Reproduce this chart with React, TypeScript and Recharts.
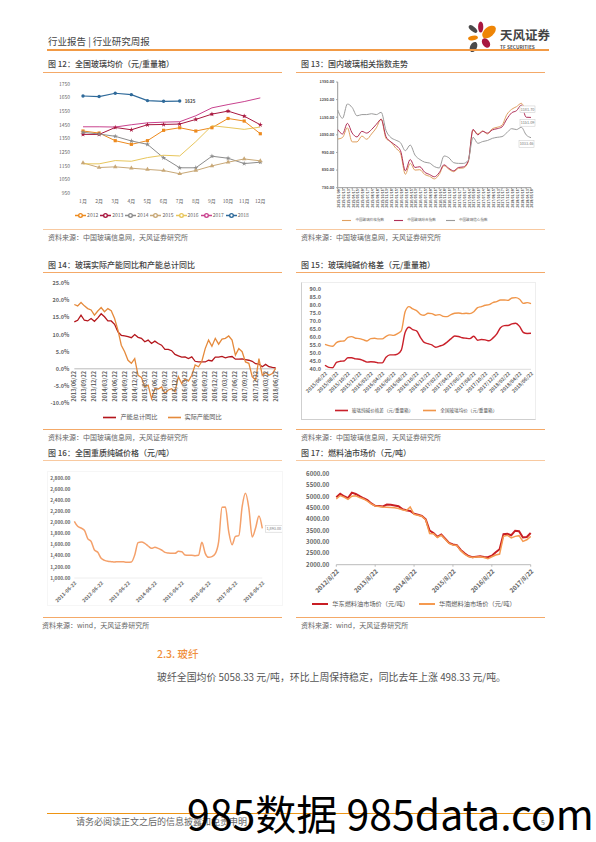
import React from 'react';
import { LineChart, Line, XAxis, YAxis, Legend, ReferenceLine, Symbols } from 'recharts';

const FONT = '"Noto Sans CJK SC", "Noto Sans", sans-serif';
const RULE = '#f4a968';

// fig 12
const months = ['1月', '2月', '3月', '4月', '5月', '6月', '7月', '8月', '9月', '10月', '11月', '12月'];
const price2012 = [1405, 1390, 1334, 1307, 1334, 1410, 1429, 1405, 1429, 1497, 1478, 1385];
const price2013 = [1380, 1380, 1431, 1414, 1451, 1453, 1456, 1490, 1529, 1551, 1514, 1451];
const price2014 = [1395, 1383, 1366, 1332, 1307, 1208, 1135, 1135, 1220, 1205, 1166, 1176];
const price2015 = [1171, 1137, 1142, 1132, 1123, 1115, 1091, 1115, 1149, 1176, 1200, 1186];
const price2016 = [1164, 1164, 1188, 1183, 1210, 1227, 1222, 1327, 1444, 1431, 1417, 1434];
const price2017 = [1436, 1436, 1434, 1451, 1465, 1470, 1473, 1517, 1575, 1599, 1621, 1648];
const price2018 = [1662, 1658, 1682, 1672, 1628, 1623, 1625, null, null, null, null, null];
const ticks12 = [950, 1050, 1150, 1250, 1350, 1450, 1550, 1650, 1750];

// fig 13
const dates13 = [
  '2015/01/09', '2015/02/13', '2015/03/13', '2015/04/17', '2015/05/15', '2015/06/19', '2015/07/17', '2015/08/14',
  '2015/09/18', '2015/10/16', '2015/11/13', '2015/12/18', '2016/01/15', '2016/02/19', '2016/03/18', '2016/04/15',
  '2016/05/13', '2016/06/17', '2016/07/15', '2016/08/19', '2016/09/16', '2016/10/14', '2016/11/18', '2016/12/16',
  '2017/01/13', '2017/02/17', '2017/03/17', '2017/04/14', '2017/05/19', '2017/06/16', '2017/07/14', '2017/08/18',
  '2017/09/15', '2017/10/13', '2017/11/17', '2017/12/15', '2018/01/19', '2018/02/16', '2018/03/16', '2018/04/13',
  '2018/05/18',
];
const indexPrice = [
  1026, 1035, 1090, 1010, 1010, 1043, 1025, 1055, 1090, 1140, 1030, 1010, 975, 945, 826, 888, 850, 852, 825, 815,
  800, 825, 875, 855, 841, 860, 862, 895, 1077, 1055, 1072, 1055, 1085, 1093, 1105, 1165, 1195, 1210, 1229, 1187, 1180,
];
const indexComposite = [
  1081, 1055, 1115, 1060, 1038, 1070, 1060, 1080, 1110, 1138, 1040, 1010, 990, 960, 846, 910, 865, 869, 838, 825,
  812, 835, 880, 860, 846, 865, 868, 900, 1081, 1050, 1070, 1060, 1078, 1085, 1095, 1140, 1175, 1187, 1219, 1150, 1149,
];
const indexConfidence = [
  1191, 1144, 1225, 1205, 1158, 1165, 1165, 1170, 1165, 1178, 1075, 1035, 1020, 1005, 960, 992, 935, 910, 895, 890,
  870, 862, 930, 920, 892, 888, 888, 905, 1036, 1002, 1012, 1018, 1030, 1036, 1040, 1062, 1085, 1080, 1093, 1050, 1034,
];
const ticks13 = [750, 850, 950, 1050, 1150, 1250, 1350];

// fig 14
const dates14 = [
  '2013/06/22', '2013/07/22', '2013/08/22', '2013/09/22', '2013/10/22', '2013/11/22', '2013/12/22', '2014/01/22',
  '2014/02/22', '2014/03/22', '2014/04/22', '2014/05/22', '2014/06/22', '2014/07/22', '2014/08/22', '2014/09/22',
  '2014/10/22', '2014/11/22', '2014/12/22', '2015/01/22', '2015/02/22', '2015/03/22', '2015/04/22', '2015/05/22',
  '2015/06/22', '2015/07/22', '2015/08/22', '2015/09/22', '2015/10/22', '2015/11/22', '2015/12/22', '2016/01/22',
  '2016/02/22', '2016/03/22', '2016/04/22', '2016/05/22', '2016/06/22', '2016/07/22', '2016/08/22', '2016/09/22',
  '2016/10/22', '2016/11/22', '2016/12/22', '2017/01/22', '2017/02/22', '2017/03/22', '2017/04/22', '2017/05/22',
  '2017/06/22', '2017/07/22', '2017/08/22', '2017/09/22', '2017/10/22', '2017/11/22', '2017/12/22', '2018/01/22',
  '2018/02/22', '2018/03/22', '2018/04/22', '2018/05/22', '2018/06/22',
];
const capacityTotal = [
  13.7, 14.2, 15.7, 14.2, 14, 14.7, 13.9, 14.9, 16.1, 15.2, 14, 14, 13, 10.8, 9.8, 9.6, 9.4, 9.1, 10, 9.2,
  8.9, 7.9, 8.4, 7.4, 8.1, 7.4, 6.9, 5.7, 5.7, 5.3, 4.2, 3.8, 3.4, 3.5, 3, 3.5, 2.2, 2, 2, 2,
  2.5, 2.3, 3.4, 3.4, 3.6, 3.2, 3.5, 3.6, 2.8, 2.8, 2.9, 2.7, 2.5, 2.2, 1.5, 1.4, 0.6, 1.3, 0.6, 0.4, 0.3,
];
const capacityActual = [
  18.8, 18.4, 19.4, 18.4, 17.6, 17.2, 15.7, 16.9, 17.9, 16.7, 17.6, 17, 14.7, 11.3, 6.9, 5, 2.5, 1.6, 3, -1.9,
  -2.5, -5.3, -4.8, -8.7, -5.8, -5.9, -5.3, -7.2, -6.2, -5.8, -6.7, -2.3, -4.3, -3, -3.6, -1.9, 1.1, 0.6, 2.2, 5.9,
  8.4, 6.6, 8.9, 7.2, 8.7, 8.9, 9.6, 8.4, 4, 5.9, 5, 2, 1.6, -2.3, -3.3, 3, -1.9, -1.1, -1.9, -1.4, 0.1,
];
const ticks14 = [-10, -5, 0, 5, 10, 15, 20, 25];

// fig 15
const dates15 = [
  '2015/06/22', '2015/07/12', '2015/08/01', '2015/08/22', '2015/09/12', '2015/10/01', '2015/10/22', '2015/11/12',
  '2015/12/01', '2015/12/22', '2016/01/12', '2016/02/01', '2016/02/22', '2016/03/12', '2016/04/01', '2016/04/22',
  '2016/05/12', '2016/06/01', '2016/06/22', '2016/07/12', '2016/08/01', '2016/08/22', '2016/09/12', '2016/10/01',
  '2016/10/22', '2016/11/12', '2016/12/01', '2016/12/22', '2017/01/12', '2017/02/01', '2017/02/22', '2017/03/12',
  '2017/04/01', '2017/04/22', '2017/05/12', '2017/06/01', '2017/06/22', '2017/07/12', '2017/08/01', '2017/08/22',
  '2017/09/12', '2017/10/01', '2017/10/22', '2017/11/12', '2017/12/01', '2017/12/22', '2018/01/12', '2018/02/01',
  '2018/02/22', '2018/03/12', '2018/04/01', '2018/04/22', '2018/05/12', '2018/06/01', '2018/06/22',
];
const spreadSoda = [
  42.5, 41.2, 41, 44.3, 45, 45.2, 47.2, 47.2, 46.5, 46.3, 45.5, 44.5, 44.7, 44.6, 44, 44, 47.5, 49, 49, 49.5,
  52, 63, 66.3, 64.8, 64, 60, 56.8, 56, 55.3, 53.8, 54.5, 55.3, 57, 59, 60.8, 60.5, 59.7, 59.4, 59.2, 60.7,
  58.2, 58.6, 58.4, 57.8, 59.5, 62, 66, 67.3, 67.4, 68.4, 68.8, 66.8, 63, 62.4, 62.5,
];
const glassAverage = [
  55.6, 54.8, 54.4, 56.7, 57.5, 57.7, 60, 60.4, 59.4, 59.2, 58.5, 57.7, 59.2, 59.4, 59, 59, 60.6, 61.5, 61.2, 62.3,
  64, 76, 79.2, 77.7, 76.7, 74.4, 73.8, 75, 74.8, 73.8, 74.2, 73.1, 72.9, 74.2, 75, 75.2, 74.8, 75, 74.8, 76,
  78.5, 79.2, 80, 80.4, 81.7, 82.3, 83.3, 83.3, 83.1, 84.6, 84.8, 83.8, 81.2, 81.7, 81,
];
const ticks15 = [40, 45, 50, 55, 60, 65, 70, 75, 80, 85, 90];

// fig 16
const dates16 = [
  '2011-06-22', '2011-08-07', '2011-09-22', '2011-11-07', '2011-12-22', '2012-02-07', '2012-03-22', '2012-05-07',
  '2012-06-22', '2012-08-07', '2012-09-22', '2012-11-07', '2012-12-22', '2013-02-07', '2013-03-22', '2013-05-07',
  '2013-06-22', '2013-08-07', '2013-09-22', '2013-11-07', '2013-12-22', '2014-02-07', '2014-03-22', '2014-05-07',
  '2014-06-22', '2014-08-07', '2014-09-22', '2014-11-07', '2014-12-22', '2015-02-07', '2015-03-22', '2015-05-07',
  '2015-06-22', '2015-08-07', '2015-09-22', '2015-11-07', '2015-12-22', '2016-02-07', '2016-03-22', '2016-05-07',
  '2016-06-22', '2016-08-07', '2016-09-22', '2016-11-07', '2016-12-22', '2017-02-07', '2017-03-22', '2017-05-07',
  '2017-06-22', '2017-08-07', '2017-09-22', '2017-11-07', '2017-12-22', '2018-02-07', '2018-03-22', '2018-05-07',
  '2018-06-22',
];
const sodaPrice = [
  2020, 1930, 1900, 1860, 1710, 1660, 1504, 1462, 1354, 1318, 1300, 1294, 1288, 1294, 1294, 1288, 1282, 1288, 1414, 1636,
  1648, 1624, 1576, 1534, 1552, 1534, 1504, 1462, 1450, 1444, 1444, 1480, 1474, 1414, 1408, 1408, 1402, 1410, 1642, 1444,
  1372, 1384, 1438, 1654, 2272, 2278, 1834, 1600, 1750, 1762, 2284, 2524, 2254, 1738, 1900, 2116, 1893,
];
const ticks16 = [1000, 1200, 1400, 1600, 1800, 2000, 2200, 2400, 2600, 2800];

// fig 17
const dates17 = [
  '2012/8/22', '2012/9/28', '2012/11/4', '2012/12/10', '2013/1/16', '2013/2/22', '2013/3/31', '2013/5/7', '2013/6/14', '2013/7/18',
  '2013/8/22', '2013/9/28', '2013/11/4', '2013/12/10', '2014/1/16', '2014/2/22', '2014/3/31', '2014/5/7', '2014/6/14', '2014/7/18',
  '2014/8/22', '2014/9/28', '2014/11/4', '2014/12/10', '2015/1/16', '2015/2/22', '2015/3/31', '2015/5/7', '2015/6/14', '2015/7/18',
  '2015/8/22', '2015/9/28', '2015/11/4', '2015/12/10', '2016/1/16', '2016/2/22', '2016/3/31', '2016/5/7', '2016/6/14', '2016/7/18',
  '2016/8/22', '2016/9/28', '2016/11/4', '2016/12/10', '2017/1/16', '2017/2/22', '2017/3/31', '2017/5/7', '2017/6/14', '2017/7/18',
  '2017/8/22',
];
const fuelEast = [
  4980, 5130, 5020, 4940, 5180, 5120, 5020, 4930, 4850, 4700, 4600, 4590, 4570, 4650, 4640, 4610, 4580, 4450, 4400, 4370,
  4250, 4200, 4150, 4000, 3500, 3400, 3230, 3330, 3150, 2960, 2890, 2860, 2650, 2500, 2380, 2330, 2350, 2370, 2340, 2330,
  2400, 2550, 2680, 3350, 3360, 3300, 3500, 3480, 3200, 3220, 3400,
];
const fuelSouth = [
  4900, 5050, 4980, 4880, 5020, 5040, 4960, 4900, 4800, 4680, 4590, 4570, 4540, 4530, 4520, 4510, 4480, 4420, 4380, 4550,
  4220, 4180, 4140, 3980, 3380, 3370, 3200, 3300, 3120, 2940, 2870, 2850, 2620, 2470, 2360, 2320, 2340, 2350, 2320, 2260,
  2350, 2430, 2470, 3250, 3300, 3180, 3250, 3280, 3030, 3100, 3250,
];
const ticks17 = [2000, 2500, 3000, 3500, 4000, 4500, 5000, 5500, 6000];

const legendText = (color: string) => (value: string) => <span style={{ color }}>{value}</span>;

const shapedDot = (type: any, size: number, color: string) => (props: any) => {
  if (props.value == null) return <g key={props.key} />;
  return <Symbols key={props.key} cx={props.cx} cy={props.cy} type={type} size={size} fill={color} />;
};

// white box with the last value, as on the wind charts
const boxLabel = (last: number, text: string, dx: number, dy: number, w: number, size: number) => (props: any) => {
  if (props.index !== last) return <g />;
  return (
    <g>
      <rect x={props.x + dx} y={props.y + dy} width={w} height={size + 3} fill="#fff" stroke="#c8c8c8" strokeWidth={0.5} />
      <text x={props.x + dx + w / 2} y={props.y + dy + size + 0.8} textAnchor="middle" fontSize={size} fill="#777">
        {text}
      </text>
    </g>
  );
};

function Box({ left, top, id, children }: any) {
  return <div id={id} style={{ position: 'absolute', left, top }}>{children}</div>;
}

function Chart12() {
  const data = months.map((m, i) => ({
    m,
    a: price2012[i],
    b: price2013[i],
    c: price2014[i],
    d: price2015[i],
    e: price2016[i],
    f: price2017[i],
    g: price2018[i],
  }));
  return (
    <Box left={43} top={76} id="c12">
      {/* the legend sits tight in the original, default item gaps are too wide */}
      <style>{'#c12 .recharts-legend-item{margin-right:2px!important}#c12 .recharts-legend-item .recharts-surface{margin-right:1px!important}'}</style>
      <LineChart width={235} height={150} data={data} margin={{ top: 8, right: 17.7, left: 0, bottom: 0 }}>
        <XAxis dataKey="m" interval={0} axisLine={false} tickLine={false} tickSize={0} tickMargin={6} height={33} tick={{ fontSize: 5, fill: '#666' }} />
        <YAxis domain={[950, 1750]} ticks={ticks12} interval={0} width={40} axisLine={false} tickLine={false} tickSize={0} tickMargin={13} tick={{ fontSize: 5, fill: '#666' }} />
        <Legend
          layout="horizontal"
          verticalAlign="middle"
          align="center"
          itemSorter={null}
          iconSize={11}
          formatter={legendText('#666')}
          wrapperStyle={{ left: 30, top: 134, width: 180, fontSize: 5, lineHeight: '10px' }}
        />
        <Line dataKey="a" name="2012" stroke="#ed8a1e" strokeWidth={1} dot={shapedDot('square', 10, '#ed8a1e')} isAnimationActive={false} />
        <Line dataKey="b" name="2013" stroke="#a8173f" strokeWidth={1} dot={shapedDot('star', 8, '#a8173f')} isAnimationActive={false} />
        <Line dataKey="c" name="2014" stroke="#8c8c8c" strokeWidth={1} dot={shapedDot('star', 8, '#8c8c8c')} isAnimationActive={false} />
        <Line dataKey="d" name="2015" stroke="#c8a877" strokeWidth={1} dot={shapedDot('triangle', 9, '#c8a877')} isAnimationActive={false} />
        <Line dataKey="e" name="2016" stroke="#e8c65c" strokeWidth={1} dot={false} isAnimationActive={false} />
        <Line dataKey="f" name="2017" stroke="#c9438f" strokeWidth={1} dot={false} isAnimationActive={false} />
        <Line
          dataKey="g"
          name="2018"
          stroke="#2f6a9a"
          strokeWidth={1.2}
          dot={shapedDot('circle', 9, '#2f6a9a')}
          isAnimationActive={false}
          label={(props: any) =>
            props.index === 6 ? (
              <text x={props.x + 5} y={props.y + 2} fontSize={4.5} fontWeight={700} fill="#444">
                1625
              </text>
            ) : (
              <g />
            )
          }
        />
      </LineChart>
    </Box>
  );
}

function Chart13() {
  const data = dates13.map((d, i) => ({ d, a: indexPrice[i], b: indexComposite[i], c: indexConfidence[i] }));
  return (
    <Box left={297} top={76}>
      <LineChart width={248} height={150} data={data} margin={{ top: 6, right: 14, left: 0, bottom: 0 }}>
        <XAxis
          dataKey="d"
          interval={0}
          stroke="#999"
          tickSize={1.5}
          tickMargin={1}
          height={38.3}
          tick={{ fontSize: 3.4, fontWeight: 700, fill: '#555', angle: -90, textAnchor: 'end', dy: -1 }}
        />
        <YAxis domain={[750, 1350]} ticks={ticks13} interval={0} width={40.7} stroke="#999" tickSize={1.5} tickMargin={2} tickFormatter={(v) => v.toFixed(2)} tick={{ fontSize: 3.8, fontWeight: 700, fill: '#555' }} />
        <Legend
          layout="horizontal"
          verticalAlign="middle"
          align="center"
          itemSorter={null}
          iconType="plainline"
          iconSize={9}
          formatter={legendText('#666')}
          wrapperStyle={{ left: 38, top: 140, width: 170, fontSize: 3.6, lineHeight: '8px' }}
        />
        <Line type="monotone" dataKey="a" name="中国玻璃价格指数" stroke="#e0a060" strokeWidth={1} dot={false} isAnimationActive={false} label={boxLabel(40, '1181.70', -11, -6, 15, 3.8)} />
        <Line type="monotone" dataKey="b" name="中国玻璃综合指数" stroke="#b03058" strokeWidth={1} dot={false} isAnimationActive={false} label={boxLabel(40, '1151.09', -11, 2, 15, 3.8)} />
        <Line type="monotone" dataKey="c" name="中国玻璃信心指数" stroke="#9b9b9b" strokeWidth={1} dot={false} isAnimationActive={false} label={boxLabel(40, '1033.46', -12, 3, 15, 3.8)} />
      </LineChart>
    </Box>
  );
}

function Chart14() {
  const data = dates14.map((d, i) => ({ d, a: capacityTotal[i], b: capacityActual[i] }));
  // date labels hang from the zero line, not from the foot of the plot
  const raisedTick = (props: any) => (
    <text
      x={props.x}
      y={props.y}
      transform={`rotate(-90 ${props.x} ${props.y})`}
      textAnchor="end"
      dy={2}
      fontSize={5.6}
      fontWeight={700}
      fill="#666"
    >
      {props.payload.value}
    </text>
  );
  return (
    <Box left={43} top={277}>
      <LineChart width={240} height={150} data={data} margin={{ top: 6.3, right: 7.3, left: 0, bottom: 0 }}>
        <XAxis dataKey="d" interval={2} axisLine={false} tickLine={false} tickSize={-32} tickMargin={0} height={24} tick={raisedTick} />
        <YAxis domain={[-10, 25]} ticks={ticks14} interval={0} width={31.3} axisLine={false} tickLine={false} tickSize={0} tickMargin={5} tickFormatter={(v) => `${v.toFixed(1)}%`} tick={{ fontSize: 5.5, fontWeight: 700, fill: '#666' }} />
        <ReferenceLine y={0} stroke="#aaa" strokeWidth={0.8} />
        <Legend
          layout="horizontal"
          verticalAlign="middle"
          align="center"
          itemSorter={null}
          iconType="plainline"
          iconSize={13}
          formatter={legendText('#555')}
          wrapperStyle={{ left: 57, top: 134, width: 135, fontSize: 6.2, lineHeight: '10px' }}
        />
        <Line dataKey="a" name="产能总计同比" stroke="#b4161c" strokeWidth={1.3} dot={false} isAnimationActive={false} />
        <Line dataKey="b" name="实际产能同比" stroke="#e58a3c" strokeWidth={1.3} dot={false} isAnimationActive={false} />
      </LineChart>
    </Box>
  );
}

function Chart15() {
  const data = dates15.map((d, i) => ({ d, a: spreadSoda[i], b: glassAverage[i] }));
  return (
    <Box left={301} top={282}>
      <div style={{ width: 233, height: 136, borderLeft: '1px solid #cfcfcf', borderBottom: '1px solid #cfcfcf', borderTop: '1px solid #eee', borderRight: '1px solid #eee' }}>
        <LineChart width={233} height={136} data={data} margin={{ top: 6.3, right: 4, left: 0, bottom: 0 }}>
          <XAxis
            dataKey="d"
            interval={2}
            stroke="#ddd"
            tickLine={false}
            tickSize={0}
            tickMargin={2}
            height={49.7}
            tick={{ fontSize: 5, fontWeight: 700, fill: '#666', angle: -45, textAnchor: 'end' }}
          />
          <YAxis domain={[40, 90]} ticks={ticks15} interval={0} width={23} axisLine={false} tickLine={false} tickSize={0} tickMargin={4} tickFormatter={(v) => v.toFixed(1)} tick={{ fontSize: 5.5, fontWeight: 700, fill: '#666' }} />
          <Legend
            layout="horizontal"
            verticalAlign="middle"
            align="center"
            itemSorter={null}
            iconType="plainline"
            iconSize={13}
            formatter={legendText('#555')}
            wrapperStyle={{ left: 14, top: 121, width: 210, fontSize: 4.6, lineHeight: '10px' }}
          />
          <Line type="monotone" dataKey="a" name="玻璃纯碱价格差（元/重量箱）" stroke="#c9202a" strokeWidth={1.4} dot={false} isAnimationActive={false} />
          <Line type="monotone" dataKey="b" name="全国玻璃均价（元/重量箱）" stroke="#f0964a" strokeWidth={1.4} dot={false} isAnimationActive={false} />
        </LineChart>
      </div>
    </Box>
  );
}

function Chart16() {
  const data = dates16.map((d, i) => ({ d, a: sodaPrice[i] }));
  return (
    <Box left={48} top={472}>
      <div style={{ width: 234, height: 133, outline: '1px solid #f6f6f6' }}>
        <LineChart width={234} height={133} data={data} margin={{ top: 6, right: 19.7, left: 0, bottom: 0 }}>
          <XAxis
            dataKey="d"
            interval={7}
            stroke="#eee"
            tickLine={false}
            tickSize={0}
            tickMargin={3}
            height={27}
            tick={{ fontSize: 5, fontWeight: 700, fill: '#666', angle: -45, textAnchor: 'end' }}
          />
          <YAxis domain={[1000, 2800]} ticks={ticks16} interval={0} width={26.3} axisLine={false} tickLine={false} tickSize={0} tickMargin={4} tickFormatter={(v) => v.toLocaleString('en-US', { minimumFractionDigits: 2 })} tick={{ fontSize: 4.8, fontWeight: 700, fill: '#666' }} />
          <Line type="monotone" dataKey="a" name="全国重质纯碱价格" stroke="#f4a06a" strokeWidth={1.5} dot={false} isAnimationActive={false} label={boxLabel(56, '1,893.00', 3, -3, 17, 3.8)} />
        </LineChart>
      </div>
    </Box>
  );
}

function Chart17() {
  const data = dates17.map((d, i) => ({ d, a: fuelEast[i], b: fuelSouth[i] }));
  return (
    <Box left={301} top={466}>
      <LineChart width={236} height={146} data={data} margin={{ top: 8, right: 6.3, left: 0, bottom: 0 }}>
        <XAxis
          dataKey="d"
          interval={9}
          stroke="#bbb"
          tickSize={2}
          tickMargin={2}
          height={47.3}
          tick={{ fontSize: 6.2, fontWeight: 700, fill: '#666', angle: -45, textAnchor: 'end' }}
        />
        <YAxis domain={[2000, 6000]} ticks={ticks17} interval={0} width={35.3} axisLine={false} tickLine={false} tickSize={0} tickMargin={7} tickFormatter={(v) => v.toFixed(2)} tick={{ fontSize: 6, fontWeight: 700, fill: '#666' }} />
        <Legend
          layout="horizontal"
          verticalAlign="middle"
          align="center"
          itemSorter={null}
          iconType="plainline"
          iconSize={16}
          formatter={legendText('#555')}
          wrapperStyle={{ left: 5, top: 130, width: 226, fontSize: 6.2, lineHeight: '10px' }}
        />
        <Line dataKey="a" name="华东燃料油市场价（元/吨）" stroke="#c81e24" strokeWidth={2} dot={false} isAnimationActive={false} />
        <Line dataKey="b" name="华南燃料油市场价（元/吨）" stroke="#f59a50" strokeWidth={1.5} dot={false} isAnimationActive={false} />
      </LineChart>
    </Box>
  );
}

function Label({ x, y, size = 8, color = '#555', weight = 400, children }: any) {
  return (
    <div style={{ position: 'absolute', left: x, top: y, fontSize: size, color, fontWeight: weight, lineHeight: '12px', whiteSpace: 'nowrap' }}>
      {children}
    </div>
  );
}

function Rule({ x, y, w, h = 1, color = RULE }: any) {
  return <div style={{ position: 'absolute', left: x, top: y, width: w, height: h, background: color }} />;
}

function Logo() {
  return (
    <svg style={{ position: 'absolute', left: 466, top: 18 }} width={90} height={36}>
      <ellipse cx={14.7} cy={9} rx={2.6} ry={5.5} fill="#a8173f" />
      <ellipse cx={7} cy={11} rx={2.4} ry={5.2} fill="#4a4a4a" transform="rotate(-50 7 11)" />
      <ellipse cx={23} cy={14} rx={4.8} ry={8} fill="#ee8506" transform="rotate(50 23 14)" />
      <ellipse cx={7} cy={20} rx={2.2} ry={5} fill="#ee8506" transform="rotate(80 7 20)" />
      <ellipse cx={20} cy={25} rx={3.6} ry={5.2} fill="#a8173f" transform="rotate(-35 20 25)" />
      <ellipse cx={7.5} cy={29} rx={3.4} ry={5.4} fill="#4a4a4a" transform="rotate(25 7.5 29)" />
      <text x={34} y={22} fontSize={12.5} fontWeight={700} fill="#444" fontFamily={FONT}>天风证券</text>
      <text x={34} y={31} fontSize={4.8} fontWeight={700} fill="#555" fontFamily={FONT}>TF SECURITIES</text>
    </svg>
  );
}

export default function App() {
  return (
    <div style={{ position: 'absolute', left: 0, top: 0, width: 596, height: 842, overflow: 'hidden', background: '#fff', fontFamily: FONT }}>
      <Label x={48} y={35} size={9.5} color="#444">行业报告 | 行业研究周报</Label>
      <Logo />
      <Rule x={47} y={49} w={502} h={1.5} color="#f29a45" />

      <Label x={48} y={58} size={8} color="#444" weight={500}>图 12：全国玻璃均价（元/重量箱）</Label>
      <Rule x={43} y={72} w={239} />
      <Chart12 />
      <Rule x={43} y={229} w={239} h={1.2} color="#f8c9a0" />
      <Label x={48} y={231} size={7} color="#666">资料来源：中国玻璃信息网，天风证券研究所</Label>

      <Label x={301} y={58} size={8} color="#444" weight={500}>图 13：国内玻璃相关指数走势</Label>
      <Rule x={296} y={72} w={249} />
      <Chart13 />
      <Rule x={296} y={229} w={249} h={1.2} color="#f8c9a0" />
      <Label x={301} y={231} size={7} color="#666">资料来源：中国玻璃信息网，天风证券研究所</Label>

      <Label x={48} y={259} size={8} color="#444" weight={500}>图 14：玻璃实际产能同比和产能总计同比</Label>
      <Rule x={43} y={272} w={239} />
      <Chart14 />
      <Rule x={43} y={429} w={239} />
      <Label x={48} y={431} size={7} color="#666">资料来源：中国玻璃信息网，天风证券研究所</Label>

      <Label x={301} y={259} size={8} color="#444" weight={500}>图 15：玻璃纯碱价格差（元/重量箱）</Label>
      <Rule x={296} y={272} w={249} />
      <Chart15 />
      <Rule x={296} y={429} w={249} />
      <Label x={301} y={431} size={7} color="#666">资料来源：中国玻璃信息网，天风证券研究所</Label>

      <Label x={48} y={447} size={8} color="#444" weight={500}>图 16：全国重质纯碱价格（元/吨）</Label>
      <Rule x={43} y={460} w={239} h={1.4} color="#f8c9a0" />
      <Chart16 />
      <Rule x={43} y={617} w={239} />
      <Label x={42} y={619} size={7} color="#666">资料来源：wind，天风证券研究所</Label>

      <Label x={301} y={447} size={8} color="#444" weight={500}>图 17：燃料油市场价（元/吨）</Label>
      <Rule x={296} y={460} w={249} h={1.4} color="#f8c9a0" />
      <Chart17 />
      <Rule x={296} y={617} w={249} />
      <Label x={301} y={619} size={7} color="#666">资料来源：wind，天风证券研究所</Label>

      <Label x={157} y={648} size={10.5} color="#f08f3c" weight={500}>2.3. 玻纤</Label>
      <Label x={157} y={671} size={9.9} color="#555">玻纤全国均价 5058.33 元/吨，环比上周保持稳定，同比去年上涨 498.33 元/吨。</Label>

      <Rule x={47} y={813} w={502} color="#ee9412" />
      <Label x={76} y={816} size={9} color="#666">请务必阅读正文之后的信息披露和免责申明</Label>
      <Label x={541} y={816} size={7} color="#666">5</Label>
      <div style={{ position: 'absolute', left: 187, top: 787, fontSize: 41, lineHeight: '50px', color: '#000', whiteSpace: 'nowrap' }}>
        985数据 985data.com
      </div>
    </div>
  );
}
